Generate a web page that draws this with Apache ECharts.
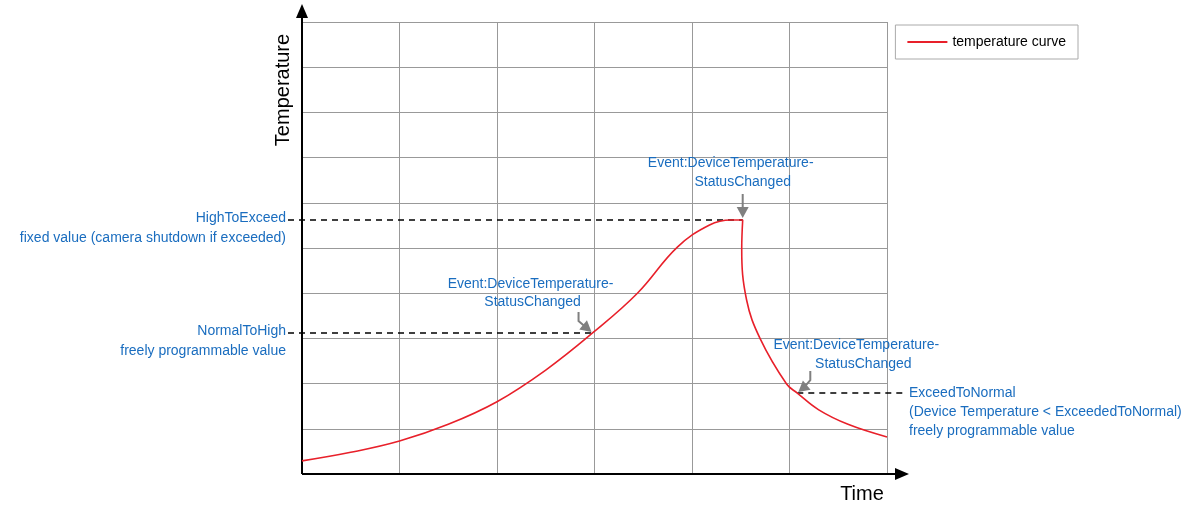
<!DOCTYPE html>
<html>
<head>
<meta charset="utf-8">
<script src="https://cdn.jsdelivr.net/npm/echarts@6/dist/echarts.min.js"></script>
<style>html,body{margin:0;padding:0;background:#fff}#main{width:1200px;height:508px}</style>
</head>
<body>
<div id="main"></div>
<script>
// curve points [time, temperature]
var timeVals = [0, 0.5, 1, 1.5, 2, 2.5, 2.98, 3.44, 3.85, 4.18, 4.4, 4.52, 4.51, 4.56, 4.7, 4.97, 5.08, 5.3, 5.6, 6];
var tempVals = [0.29, 0.48, 0.73, 1.1, 1.6, 2.3, 3.12, 4.0, 5.02, 5.51, 5.62, 5.62, 4.98, 3.85, 2.99, 1.99, 1.79, 1.42, 1.1, 0.82];
var highToExceed = 5.62, normalToHigh = 3.12, exceedToNormal = 1.79;
var events = [[4.52, 5.62], [2.98, 3.12], [5.08, 1.79]];

var blue = '#1a6dbf', gray = '#808080', font = '"Liberation Sans", Arial, sans-serif';
var myChart = echarts.init(document.getElementById('main'));
var curve = timeVals.map(function (t, i) { return [t, tempVals[i]]; });

myChart.setOption({
	animation: false,
	grid: { left: 302, right: 313, top: 22, bottom: 34 },
	xAxis: { type: 'value', min: 0, max: 6, interval: 1, axisLabel: { show: false }, axisTick: { show: false },
		axisLine: { show: false }, splitLine: { lineStyle: { color: '#999', width: 1 } } },
	yAxis: { type: 'value', min: 0, max: 10, interval: 1, axisLabel: { show: false }, axisTick: { show: false },
		axisLine: { show: false }, splitLine: { lineStyle: { color: '#999', width: 1 } } },
	legend: { right: 122, top: 25, itemWidth: 40, itemHeight: 2, padding: [10, 12], borderColor: '#aaa', borderWidth: 1,
		borderRadius: 0, textStyle: { fontFamily: font, fontSize: 14, color: '#000' }, icon: 'rect',
		data: ['temperature curve'] },
	series: [{ name: 'temperature curve', type: 'line', data: curve, smooth: 0.4, showSymbol: false,
		lineStyle: { color: '#e8202a', width: 1.6 }, itemStyle: { color: '#e8202a' } }]
});

function px(p) { return myChart.convertToPixel({ gridIndex: 0 }, p); }
var o = px([0, 0]), tr = px([6, 10]);
var g = [];
function line(pts, dash) {
	g.push({ type: 'polyline', shape: { points: pts }, style: { stroke: '#000', lineWidth: dash ? 1.5 : 2, lineDash: dash ? [6, 5] : null, fill: null } });
}
function text(x, y, s, align, color, size) {
	g.push({ type: 'text', x: x, y: y, style: { text: s, align: align, verticalAlign: 'middle', fill: color || blue,
		font: (size || 14) + 'px ' + font, lineHeight: 20 } });
}
function arrow(tip, pts) {
	g.push({ type: 'polyline', shape: { points: pts }, style: { stroke: gray, lineWidth: 2, fill: null } });
	var a = pts[pts.length - 1], ang = Math.atan2(tip[1] - a[1], tip[0] - a[0]);
	var L = 11, W = 6;
	var bx = tip[0] - L * Math.cos(ang), by = tip[1] - L * Math.sin(ang);
	g.push({ type: 'polygon', shape: { points: [tip, [bx + W * Math.sin(ang), by - W * Math.cos(ang)], [bx - W * Math.sin(ang), by + W * Math.cos(ang)]] }, style: { fill: gray } });
}
// axes with arrows
line([[o[0], o[1]], [tr[0] + 12, o[1]]]);
line([[o[0], o[1]], [o[0], tr[1] - 8]]);
g.push({ type: 'polygon', shape: { points: [[tr[0] + 22, o[1]], [tr[0] + 8, o[1] - 6], [tr[0] + 8, o[1] + 6]] }, style: { fill: '#000' } });
g.push({ type: 'polygon', shape: { points: [[o[0], tr[1] - 18], [o[0] - 6, tr[1] - 4], [o[0] + 6, tr[1] - 4]] }, style: { fill: '#000' } });
text(o[0] + 560, o[1] + 20, 'Time', 'center', '#000', 20);
g.push({ type: 'text', x: 283, y: 90, rotation: Math.PI / 2, style: { text: 'Temperature', align: 'center', verticalAlign: 'middle', fill: '#000', font: '20px ' + font } });

// threshold lines
var e0 = px(events[0]), e1 = px(events[1]), e2 = px(events[2]);
line([[o[0] - 14, px([0, highToExceed])[1]], [e0[0], e0[1]]], true);
line([[o[0] - 14, px([0, normalToHigh])[1]], [e1[0], e1[1]]], true);
line([[e2[0], e2[1]], [tr[0] + 18, px([0, exceedToNormal])[1]]], true);

text(o[0] - 16, e0[1] - 2, 'HighToExceed', 'right');
text(o[0] - 16, e0[1] + 18, 'fixed value (camera shutdown if exceeded)', 'right');
text(o[0] - 16, e1[1] - 2, 'NormalToHigh', 'right');
text(o[0] - 16, e1[1] + 18, 'freely programmable value', 'right');
text(tr[0] + 22, e2[1], 'ExceedToNormal', 'left');
text(tr[0] + 22, e2[1] + 19, '(Device Temperature < ExceededToNormal)', 'left');
text(tr[0] + 22, e2[1] + 38, 'freely programmable value', 'left');

text(e0[0] - 12, e0[1] - 57, 'Event:DeviceTemperature-', 'center');
text(e0[0] + 0, e0[1] - 38, 'StatusChanged', 'center');
text(e1[0] - 62, e1[1] - 49, 'Event:DeviceTemperature-', 'center');
text(e1[0] - 60, e1[1] - 31, 'StatusChanged', 'center');
text(e2[0] + 59, e2[1] - 48, 'Event:DeviceTemperature-', 'center');
text(e2[0] + 66, e2[1] - 29, 'StatusChanged', 'center');

arrow([e0[0], e0[1] - 2], [[e0[0], e0[1] - 26], [e0[0], e0[1] - 12]]);
arrow([e1[0] - 1, e1[1] - 1], [[e1[0] - 14, e1[1] - 21], [e1[0] - 14, e1[1] - 12], [e1[0] - 7, e1[1] - 6]]);
arrow([e2[0] + 1, e2[1] - 1], [[e2[0] + 13, e2[1] - 22], [e2[0] + 13, e2[1] - 13], [e2[0] + 7, e2[1] - 6]]);

myChart.setOption({ graphic: g });
</script>
</body>
</html>
